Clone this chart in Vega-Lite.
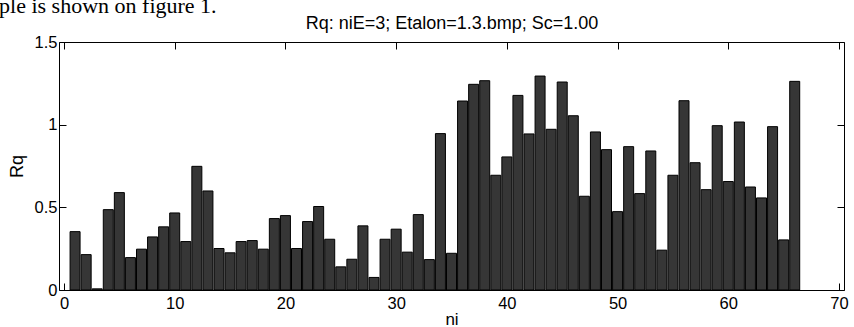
{
  "$schema": "https://vega.github.io/schema/vega-lite/v6.json",
  "autosize": {"type": "none"},
  "padding": {"left": 59, "top": 42, "right": 10, "bottom": 37},
  "width": 785,
  "height": 248,
  "background": "white",
  "title": {"text": "ple is shown on figure 1.", "anchor": "start", "frame": "bounds", "font": "Liberation Serif", "fontSize": 22, "fontWeight": "normal", "color": "black", "offset": -3, "dx": -9},
  "config": {
    "view": {"stroke": null},
    "axis": {
      "grid": false,
      "domainColor": "black",
      "domainWidth": 1,
      "tickColor": "black",
      "tickWidth": 1,
      "tickSize": -7,
      "labelFont": "Liberation Sans",
      "labelFontSize": 16.5,
      "labelColor": "black",
      "labelFlush": false,
      "labelOverlap": false,
      "titleFont": "Liberation Sans",
      "titleFontSize": 18,
      "titleFontWeight": "normal",
      "titleColor": "black"
    }
  },
  "data": {"values": [
    {"ni": 1, "Rq": 0.353}, {"ni": 2, "Rq": 0.214}, {"ni": 3, "Rq": 0.007}, {"ni": 4, "Rq": 0.486},
    {"ni": 5, "Rq": 0.589}, {"ni": 6, "Rq": 0.196}, {"ni": 7, "Rq": 0.247}, {"ni": 8, "Rq": 0.321},
    {"ni": 9, "Rq": 0.382}, {"ni": 10, "Rq": 0.466}, {"ni": 11, "Rq": 0.293}, {"ni": 12, "Rq": 0.748},
    {"ni": 13, "Rq": 0.599}, {"ni": 14, "Rq": 0.251}, {"ni": 15, "Rq": 0.225}, {"ni": 16, "Rq": 0.293},
    {"ni": 17, "Rq": 0.299}, {"ni": 18, "Rq": 0.247}, {"ni": 19, "Rq": 0.432}, {"ni": 20, "Rq": 0.450},
    {"ni": 21, "Rq": 0.251}, {"ni": 22, "Rq": 0.414}, {"ni": 23, "Rq": 0.505}, {"ni": 24, "Rq": 0.307},
    {"ni": 25, "Rq": 0.140}, {"ni": 26, "Rq": 0.186}, {"ni": 27, "Rq": 0.388}, {"ni": 28, "Rq": 0.076},
    {"ni": 29, "Rq": 0.307}, {"ni": 30, "Rq": 0.368}, {"ni": 31, "Rq": 0.229}, {"ni": 32, "Rq": 0.456},
    {"ni": 33, "Rq": 0.184}, {"ni": 34, "Rq": 0.946}, {"ni": 35, "Rq": 0.222}, {"ni": 36, "Rq": 1.143},
    {"ni": 37, "Rq": 1.244}, {"ni": 38, "Rq": 1.266}, {"ni": 39, "Rq": 0.694}, {"ni": 40, "Rq": 0.805},
    {"ni": 41, "Rq": 1.177}, {"ni": 42, "Rq": 0.944}, {"ni": 43, "Rq": 1.294}, {"ni": 44, "Rq": 0.972},
    {"ni": 45, "Rq": 1.258}, {"ni": 46, "Rq": 1.054}, {"ni": 47, "Rq": 0.567}, {"ni": 48, "Rq": 0.956},
    {"ni": 49, "Rq": 0.849}, {"ni": 50, "Rq": 0.474}, {"ni": 51, "Rq": 0.867}, {"ni": 52, "Rq": 0.583},
    {"ni": 53, "Rq": 0.841}, {"ni": 54, "Rq": 0.241}, {"ni": 55, "Rq": 0.694}, {"ni": 56, "Rq": 1.145},
    {"ni": 57, "Rq": 0.770}, {"ni": 58, "Rq": 0.607}, {"ni": 59, "Rq": 0.994}, {"ni": 60, "Rq": 0.656},
    {"ni": 61, "Rq": 1.016}, {"ni": 62, "Rq": 0.623}, {"ni": 63, "Rq": 0.557}, {"ni": 64, "Rq": 0.988},
    {"ni": 65, "Rq": 0.303}, {"ni": 66, "Rq": 1.262}
  ]},
  "layer": [
    {
      "mark": {"type": "bar", "orient": "vertical", "size": 10, "fill": "#363636", "stroke": "black", "strokeWidth": 1},
      "encoding": {
        "x": {"field": "ni", "type": "quantitative", "scale": {"domain": [0, 70], "nice": false, "zero": false},
              "axis": {"orient": "bottom", "values": [0, 10, 20, 30, 40, 50, 60, 70], "title": "ni", "titleFontSize": 17, "labelPadding": 12, "titlePadding": 0}},
        "y": {"field": "Rq", "type": "quantitative", "stack": null, "scale": {"domain": [0, 1.5], "nice": false},
              "axis": {"orient": "left", "values": [0, 0.5, 1, 1.5], "format": "~g", "title": "Rq", "labelPadding": 9, "titlePadding": 8}}
      }
    },
    {
      "mark": {"type": "bar", "orient": "vertical", "size": 10, "opacity": 0},
      "encoding": {
        "x": {"field": "ni", "type": "quantitative", "scale": {"domain": [0, 70], "nice": false, "zero": false},
              "axis": {"orient": "top", "values": [0, 10, 20, 30, 40, 50, 60, 70], "labels": false, "title": "Rq: niE=3; Etalon=1.3.bmp; Sc=1.00", "titlePadding": 9}},
        "y": {"field": "Rq", "type": "quantitative", "stack": null, "scale": {"domain": [0, 1.5], "nice": false},
              "axis": {"orient": "right", "values": [0, 0.5, 1, 1.5], "labels": false, "title": null}}
      }
    }
  ],
  "resolve": {"axis": {"x": "independent", "y": "independent"}}
}
